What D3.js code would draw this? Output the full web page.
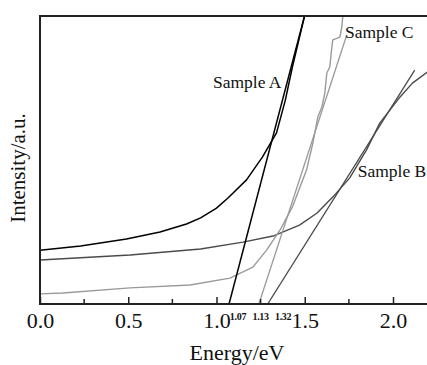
<!DOCTYPE html>
<html>
<head>
<meta charset="utf-8">
<script src="https://cdn.jsdelivr.net/npm/d3@7"></script>
<style>
  body { margin: 0; background: #fff; }
  text { font-family: "Liberation Serif", "Times New Roman", serif; }
</style>
</head>
<body>
<svg id="chart"></svg>
<script>
// energy (eV) vs intensity (a.u., 0-100 arbitrary)
const sampleA = [
  [0.0, 18.7], [0.23, 20.1], [0.49, 22.6], [0.68, 25.0], [0.83, 27.8],
  [0.91, 29.9], [1.0, 33.3], [1.065, 36.8], [1.17, 43.1], [1.26, 51.0],
  [1.34, 59.4], [1.39, 70.8], [1.43, 82.3], [1.5, 100.3]
];
const sampleB = [
  [0.0, 15.3], [0.51, 17.0], [0.91, 19.1], [1.15, 21.5], [1.32, 23.6],
  [1.47, 27.4], [1.57, 31.6], [1.66, 37.2], [1.755, 43.8], [1.85, 53.5],
  [1.925, 62.8], [2.04, 71.9], [2.11, 76.7], [2.2, 80.8]
];
const sampleC = [
  [0.0, 3.5], [0.13, 3.8], [0.51, 5.6], [0.85, 6.6], [1.076, 9.0],
  [1.206, 12.8], [1.285, 18.8], [1.36, 25.7], [1.43, 33.7], [1.51, 46.5],
  [1.546, 55.9], [1.574, 64.9], [1.597, 68.4], [1.614, 73.3], [1.625, 80.2],
  [1.642, 82.3], [1.653, 88.9], [1.659, 91.7], [1.699, 92.7], [1.71, 96.2],
  [1.716, 100.3]
];
const tangentA = [[1.071, 0], [1.5, 100.3]];
const tangentB = [[1.29, 0], [2.123, 81.2]];
const tangentC = [[1.24, 0], [1.738, 93.4]];
const gapValues = ['1.07', '1.13', '1.32'];
const xTicks = [0, 0.5, 1.0, 1.5, 2.0];

const width = 427, height = 365;
const padLeft = 40, padTop = 16, axisY = 304;

const svg = d3.select('#chart').attr('width', width).attr('height', height);

const x = d3.scaleLinear().domain([0, 2.2]).range([padLeft, 428.3]);
const y = d3.scaleLinear().domain([0, 100]).range([axisY, padTop]);

svg.append('clipPath').attr('id', 'plot')
  .append('rect').attr('x', padLeft).attr('y', padTop)
  .attr('width', width - padLeft).attr('height', axisY - padTop);

const line = d3.line().x(d => x(d[0])).y(d => y(d[1]));

const plot = svg.append('g').attr('clip-path', 'url(#plot)');
const series = [
  { data: sampleB, color: '#4a4a4a', w: 1.4 },
  { data: tangentB, color: '#4a4a4a', w: 1.3 },
  { data: sampleC, color: '#9a9a9a', w: 1.4 },
  { data: tangentC, color: '#9a9a9a', w: 1.3 },
  { data: sampleA, color: '#000', w: 1.5 },
  { data: tangentA, color: '#000', w: 1.5 }
];
series.forEach(s => {
  plot.append('path').datum(s.data)
    .attr('d', line)
    .style('fill', 'none')
    .style('stroke', s.color)
    .style('stroke-width', s.w)
    .style('stroke-linejoin', 'round');
});

// frame: top, left, bottom (right side runs off the picture)
svg.append('path')
  .attr('d', `M${width + 2},${padTop}H${padLeft}V${axisY}H${width + 2}`)
  .style('fill', 'none').style('stroke', '#222').style('stroke-width', 2);

// bottom axis, ticks pointing inward
const xAxis = d3.axisBottom(x).tickValues(xTicks).tickSize(-7).tickPadding(15)
  .tickFormat(d3.format('.1f'));
const gx = svg.append('g').attr('transform', `translate(0,${axisY})`).call(xAxis);
gx.select('.domain').remove();
gx.selectAll('.tick line').style('stroke', '#222').style('stroke-width', 1.5);
gx.selectAll('.tick text').style('font-size', '22px').style('fill', '#111')
  .attr('dy', '0.71em').attr('y', 8);

const minor = d3.range(0.25, 2.2, 0.5);
svg.append('g').selectAll('line').data(minor).enter().append('line')
  .attr('x1', d => x(d)).attr('x2', d => x(d))
  .attr('y1', axisY).attr('y2', axisY - 5)
  .style('stroke', '#222').style('stroke-width', 1.5);

// band gap labels near intercepts
const gapDx = [1, 13, 2];
svg.append('g').selectAll('text').data(gapValues).enter().append('text')
  .attr('x', (d, i) => x(+d) + gapDx[i])
  .attr('y', 320)
  .style('font-size', '10px').style('font-weight', 'bold').style('fill', '#111')
  .style('letter-spacing', '-0.3px')
  .text(d => d);

// series labels
const labels = [
  { t: 'Sample A', e: 0.98, v: 75 },
  { t: 'Sample C', e: 1.728, v: 92.4 },
  { t: 'Sample B', e: 1.80, v: 44.1 }
];
svg.append('g').selectAll('text').data(labels).enter().append('text')
  .attr('x', d => x(d.e)).attr('y', d => y(d.v))
  .style('font-size', '17.5px').style('fill', '#111')
  .text(d => d.t);

svg.append('text')
  .attr('x', 237).attr('y', 360)
  .attr('text-anchor', 'middle')
  .style('font-size', '22px').style('fill', '#111')
  .text('Energy/eV');

svg.append('text')
  .attr('transform', 'translate(25,168) rotate(-90)')
  .attr('text-anchor', 'middle')
  .style('font-size', '21px').style('fill', '#111')
  .text('Intensity/a.u.');
</script>
</body>
</html>
